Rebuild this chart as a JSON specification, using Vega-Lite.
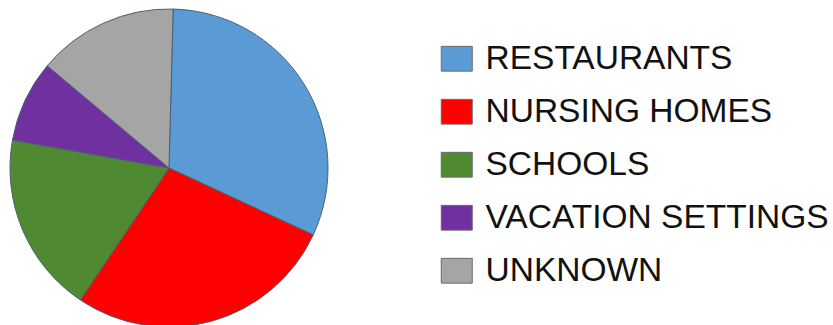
{
  "$schema": "https://vega.github.io/schema/vega-lite/v6.json",
  "width": 338,
  "height": 325,
  "padding": {"left": 0, "top": 0, "right": 495, "bottom": 0},
  "autosize": {"type": "none"},
  "background": "white",
  "config": {"view": {"stroke": null}},
  "data": {"values": [
    {"category": "RESTAURANTS", "value": 31.5, "rank": 1},
    {"category": "NURSING HOMES", "value": 27.5, "rank": 2},
    {"category": "SCHOOLS", "value": 18.4, "rank": 3},
    {"category": "VACATION SETTINGS", "value": 8.3, "rank": 4},
    {"category": "UNKNOWN", "value": 14.3, "rank": 5}
  ]},
  "mark": {"type": "arc", "outerRadius": 159, "stroke": "#4d5f73", "strokeWidth": 1, "y": 168},
  "encoding": {
    "theta": {"field": "value", "type": "quantitative", "stack": true, "scale": {"range": [0.026, 6.3092]}},
    "order": {"field": "rank", "type": "quantitative"},
    "color": {
      "field": "category", "type": "nominal",
      "scale": {
        "domain": ["RESTAURANTS", "NURSING HOMES", "SCHOOLS", "VACATION SETTINGS", "UNKNOWN"],
        "range": ["#5B9BD5", "#FF0000", "#4F8A32", "#7030A0", "#A5A5A5"]
      },
      "legend": {
        "title": null,
        "orient": "none",
        "legendX": 440,
        "legendY": 42,
        "symbolType": "M-1,-0.8H1V0.8H-1Z",
        "symbolSize": 961,
        "symbolStrokeColor": "#6b6b6b",
        "symbolStrokeWidth": 1,
        "labelFont": "Liberation Sans",
        "labelFontSize": 33.5,
        "labelColor": "#111111",
        "labelOffset": 12,
        "labelLimit": 500,
        "rowPadding": 18
      }
    }
  }
}
